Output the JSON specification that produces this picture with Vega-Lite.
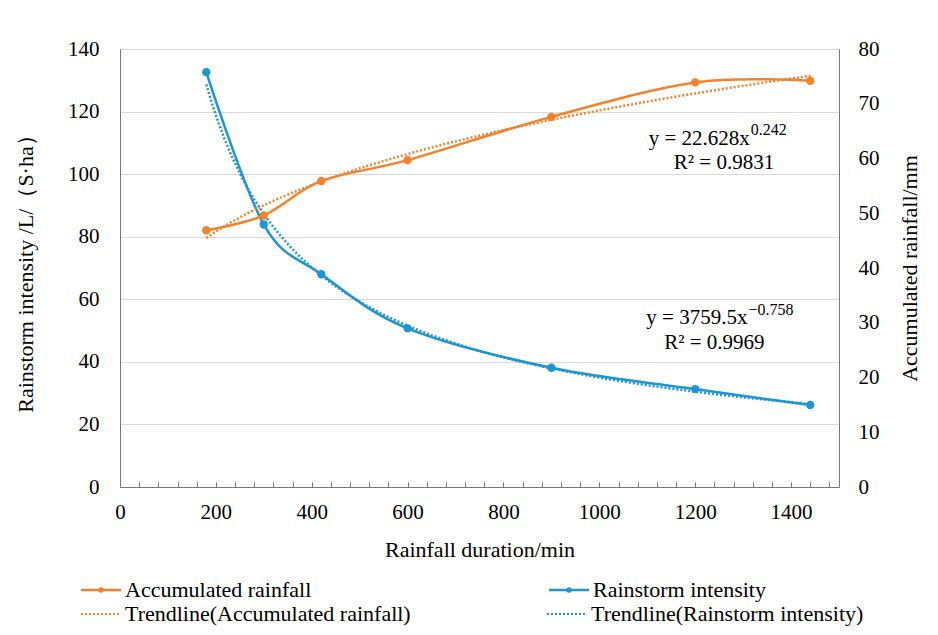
{
  "$schema": "https://vega.github.io/schema/vega-lite/v6.json",
  "width": 719,
  "height": 438,
  "autosize": {"type": "none"},
  "padding": {"left": 120, "top": 49, "right": 99, "bottom": 148},
  "background": "white",
  "config": {
    "font": "Liberation Serif",
    "view": {"stroke": "#7a7a7a", "strokeWidth": 1},
    "axis": {
      "labelFont": "Liberation Serif",
      "titleFont": "Liberation Serif",
      "labelFontSize": 21,
      "titleFontSize": 22,
      "titleFontWeight": "normal",
      "labelColor": "#000000",
      "titleColor": "#000000",
      "domainColor": "#7a7a7a",
      "tickColor": "#7a7a7a"
    },
    "legend": {
      "labelFont": "Liberation Serif",
      "labelFontSize": 22,
      "labelColor": "#000000",
      "labelLimit": 400
    }
  },
  "datasets": {
    "main": [
      {"duration": 180, "intensity": 132.6, "rainfall": 46.9},
      {"duration": 300, "intensity": 83.9, "rainfall": 49.6},
      {"duration": 420, "intensity": 68.0, "rainfall": 55.9},
      {"duration": 600, "intensity": 50.7, "rainfall": 59.7},
      {"duration": 900, "intensity": 38.1, "rainfall": 67.6},
      {"duration": 1200, "intensity": 31.3, "rainfall": 73.9},
      {"duration": 1440, "intensity": 26.2, "rainfall": 74.2}
    ],
    "eqBase": [
      {"duration": 1314, "intensity": 109.3, "text": "y = 22.628x"},
      {"duration": 1309, "intensity": 52.1, "text": "y = 3759.5x"}
    ],
    "eqSup": [
      {"duration": 1316, "intensity": 112.6, "text": "0.242"},
      {"duration": 1311, "intensity": 55.0, "text": "−0.758"}
    ],
    "eqR2": [
      {"duration": 1260, "intensity": 101.5, "text": "R² = 0.9831"},
      {"duration": 1240, "intensity": 44.0, "text": "R² = 0.9969"}
    ]
  },
  "layer": [
    {
      "layer": [
        {
          "data": {"name": "main"},
          "mark": {"type": "line", "interpolate": "cardinal", "strokeWidth": 2.5},
          "encoding": {
            "x": {
              "field": "duration", "type": "quantitative",
              "scale": {"domain": [0, 1500], "nice": false},
              "axis": {
                "title": "Rainfall duration/min",
                "values": [0,40,80,120,160,200,240,280,320,360,400,440,480,520,560,600,640,680,720,760,800,840,880,920,960,1000,1040,1080,1120,1160,1200,1240,1280,1320,1360,1400,1440,1480],
                "tickCount": 100,
                "labelExpr": "datum.value % 200 === 0 ? datum.label : ''",
                "format": "d",
                "tickSize": -5,
                "labelPadding": 19,
                "titlePadding": 17,
                "grid": false,
                "labelFlush": false,
                "labelOverlap": false
              }
            },
            "y": {
              "field": "intensity", "type": "quantitative",
              "scale": {"domain": [0, 140], "nice": false},
              "axis": {
                "title": "Rainstorm intensity /L/（S·ha）",
                "values": [0, 20, 40, 60, 80, 100, 120, 140],
                "ticks": false,
                "grid": true,
                "gridColor": "#d9d9d9",
                "labelPadding": 21,
                "titlePadding": 30
              }
            },
            "color": {
              "datum": "Rainstorm intensity", "type": "nominal",
              "scale": {
                "domain": ["Accumulated rainfall", "Rainstorm intensity"],
                "range": ["#f5822a", "#1c96d4"]
              },
              "legend": {
                "title": null,
                "orient": "none",
                "legendX": -40,
                "legendY": 530,
                "direction": "horizontal",
                "columns": 2,
                "columnPadding": 232,
                "padding": 0,
                "symbolType": "M-4,0H4M0.3,0A0.3,0.3,0,1,1,-0.3,0A0.3,0.3,0,1,1,0.3,0",
                "symbolSize": 100,
                "symbolStrokeWidth": 2.5,
                "symbolOffset": 10,
                "labelOffset": 13
              }
            }
          }
        },
        {
          "data": {"name": "main"},
          "mark": {"type": "point", "filled": true, "size": 70, "opacity": 1},
          "encoding": {
            "x": {"field": "duration", "type": "quantitative"},
            "y": {"field": "intensity", "type": "quantitative"},
            "color": {"datum": "Rainstorm intensity", "type": "nominal"}
          }
        },
        {
          "data": {"name": "main"},
          "transform": [{"regression": "intensity", "on": "duration", "method": "pow"}],
          "mark": {"type": "line", "strokeDash": [2, 2], "strokeWidth": 2.5},
          "encoding": {
            "x": {"field": "duration", "type": "quantitative"},
            "y": {"field": "intensity", "type": "quantitative"},
            "stroke": {
              "datum": "Trendline(Rainstorm intensity)", "type": "nominal",
              "scale": {
                "domain": ["Trendline(Accumulated rainfall)", "Trendline(Rainstorm intensity)"],
                "range": ["#f5822a", "#1c96d4"]
              },
              "legend": {
                "title": null,
                "orient": "none",
                "legendX": -40,
                "legendY": 554,
                "direction": "horizontal",
                "columns": 2,
                "columnPadding": 132,
                "padding": 0,
                "symbolType": "M-4,0H4",
                "symbolSize": 100,
                "symbolStrokeWidth": 2,
                "symbolDash": [2, 2],
                "symbolOffset": 10,
                "labelOffset": 13
              }
            }
          }
        },
        {
          "data": {"name": "eqBase"},
          "mark": {"type": "text", "align": "right", "baseline": "alphabetic", "fontSize": 21, "font": "Liberation Serif", "color": "#000000"},
          "encoding": {
            "x": {"field": "duration", "type": "quantitative"},
            "y": {"field": "intensity", "type": "quantitative"},
            "text": {"field": "text"}
          }
        },
        {
          "data": {"name": "eqSup"},
          "mark": {"type": "text", "align": "left", "baseline": "alphabetic", "fontSize": 16, "font": "Liberation Serif", "color": "#000000"},
          "encoding": {
            "x": {"field": "duration", "type": "quantitative"},
            "y": {"field": "intensity", "type": "quantitative"},
            "text": {"field": "text"}
          }
        },
        {
          "data": {"name": "eqR2"},
          "mark": {"type": "text", "align": "center", "baseline": "alphabetic", "fontSize": 21, "font": "Liberation Serif", "color": "#000000"},
          "encoding": {
            "x": {"field": "duration", "type": "quantitative"},
            "y": {"field": "intensity", "type": "quantitative"},
            "text": {"field": "text"}
          }
        }
      ]
    },
    {
      "layer": [
        {
          "data": {"name": "main"},
          "mark": {"type": "line", "interpolate": "cardinal", "strokeWidth": 2.5},
          "encoding": {
            "x": {"field": "duration", "type": "quantitative"},
            "y": {
              "field": "rainfall", "type": "quantitative",
              "scale": {"domain": [0, 80], "nice": false},
              "axis": {
                "orient": "right",
                "title": "Accumulated rainfall/mm",
                "titleAngle": 270,
                "values": [0, 10, 20, 30, 40, 50, 60, 70, 80],
                "ticks": false,
                "grid": false,
                "labelPadding": 19,
                "titlePadding": 42
              }
            },
            "color": {"datum": "Accumulated rainfall", "type": "nominal"}
          }
        },
        {
          "data": {"name": "main"},
          "mark": {"type": "point", "filled": true, "size": 70, "opacity": 1},
          "encoding": {
            "x": {"field": "duration", "type": "quantitative"},
            "y": {"field": "rainfall", "type": "quantitative"},
            "color": {"datum": "Accumulated rainfall", "type": "nominal"}
          }
        },
        {
          "data": {"name": "main"},
          "transform": [{"regression": "rainfall", "on": "duration", "method": "pow"}],
          "mark": {"type": "line", "strokeDash": [2, 2], "strokeWidth": 2.5},
          "encoding": {
            "x": {"field": "duration", "type": "quantitative"},
            "y": {"field": "rainfall", "type": "quantitative"},
            "stroke": {"datum": "Trendline(Accumulated rainfall)", "type": "nominal"}
          }
        }
      ]
    }
  ],
  "resolve": {"scale": {"y": "independent"}}
}
